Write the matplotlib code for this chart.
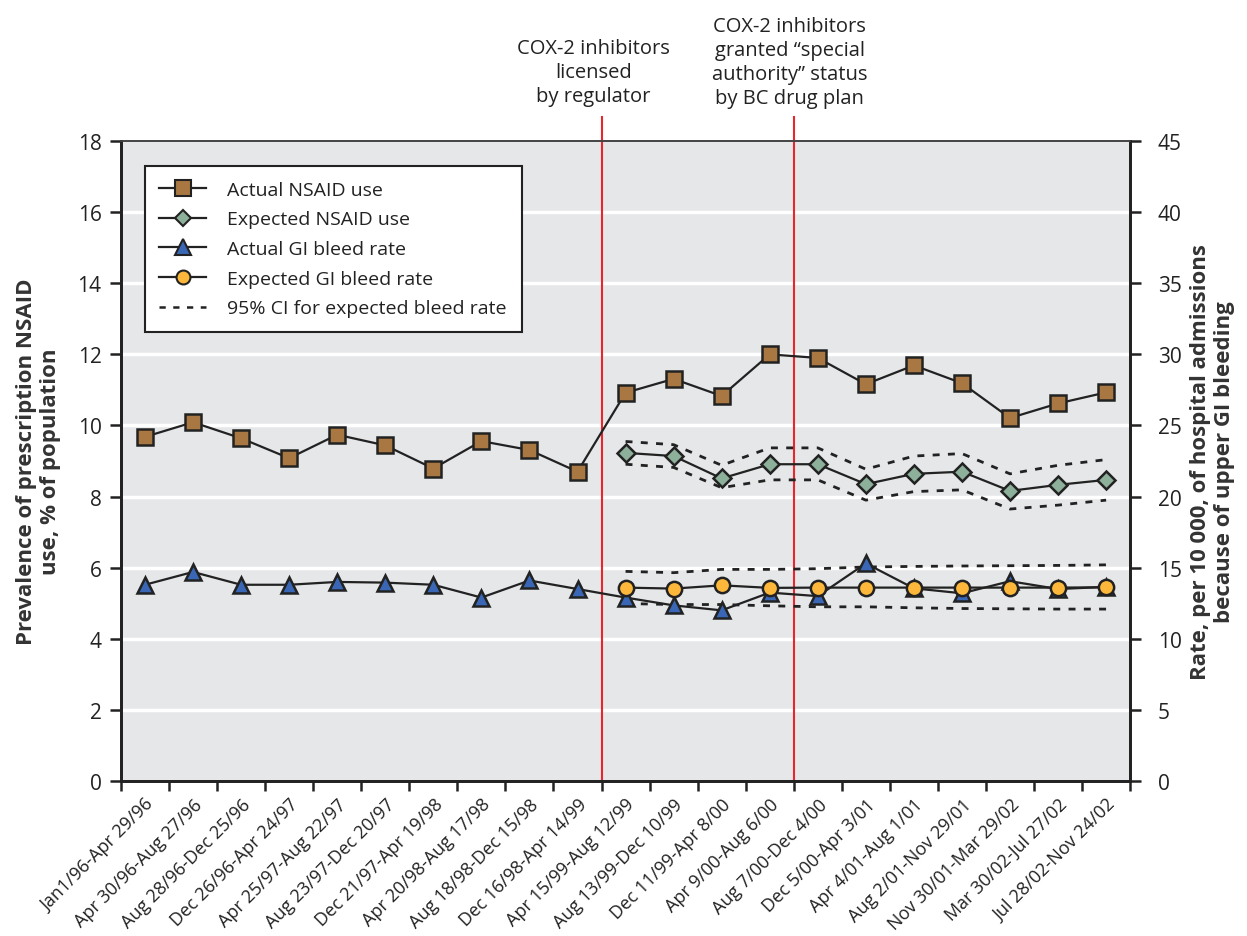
import matplotlib
matplotlib.use("Agg")
import matplotlib.pyplot as plt
import matplotlib.transforms as mtransforms
from matplotlib.lines import Line2D
import numpy as np

plt.rcParams['font.family'] = ['Open Sans', 'DejaVu Sans']

# 4-month periods
periods = ["Jan1/96-Apr 29/96", "Apr 30/96-Aug 27/96", "Aug 28/96-Dec 25/96",
           "Dec 26/96-Apr 24/97", "Apr 25/97-Aug 22/97", "Aug 23/97-Dec 20/97",
           "Dec 21/97-Apr 19/98", "Apr 20/98-Aug 17/98", "Aug 18/98-Dec 15/98",
           "Dec 16/98-Apr 14/99", "Apr 15/99-Aug 12/99", "Aug 13/99-Dec 10/99",
           "Dec 11/99-Apr 8/00", "Apr 9/00-Aug 6/00", "Aug 7/00-Dec 4/00",
           "Dec 5/00-Apr 3/01", "Apr 4/01-Aug 1/01", "Aug 2/01-Nov 29/01",
           "Nov 30/01-Mar 29/02", "Mar 30/02-Jul 27/02", "Jul 28/02-Nov 24/02"]

# NSAID use, % of population (left axis)
actual_nsaid = [9.68, 10.09, 9.64, 9.08, 9.74, 9.44, 8.79, 9.56, 9.31, 8.70,
                10.92, 11.31, 10.83, 12.0, 11.90, 11.16, 11.69, 11.19, 10.21, 10.62, 10.93]
expected_nsaid = [9.23, 9.14, 8.51, 8.91, 8.91, 8.35, 8.64, 8.70, 8.16, 8.33, 8.47]
nsaid_ci_hi = [9.55, 9.46, 8.88, 9.37, 9.37, 8.77, 9.14, 9.21, 8.64, 8.88, 9.04]
nsaid_ci_lo = [8.91, 8.82, 8.25, 8.47, 8.47, 7.90, 8.14, 8.19, 7.65, 7.76, 7.90]

# GI bleed rate per 10 000 (right axis)
actual_gi = [13.8, 14.7, 13.8, 13.8, 14.0, 13.95, 13.8, 12.9, 14.1, 13.5,
             12.9, 12.35, 12.0, 13.25, 13.0, 15.3, 13.55, 13.2, 14.05, 13.5, 13.65]
expected_gi = [13.6, 13.53, 13.76, 13.58, 13.6, 13.6, 13.6, 13.6, 13.6, 13.6, 13.62]
gi_ci_hi = [14.74, 14.65, 14.88, 14.88, 14.93, 15.05, 15.09, 15.12, 15.14, 15.16, 15.2]
gi_ci_lo = [12.48, 12.41, 12.41, 12.32, 12.25, 12.25, 12.18, 12.13, 12.11, 12.09, 12.09]

post_start = 10
events = [9.5, 13.5]
event_text = ["COX-2 inhibitors\nlicensed\nby regulator",
              "COX-2 inhibitors\ngranted \u201cspecial\nauthority\u201d status\nby BC drug plan"]

x_all = np.arange(len(periods))
x_post = np.arange(post_start, len(periods))

fig = plt.figure(figsize=(12.47, 9.37), dpi=100)
ax = fig.add_axes([0.097, 0.1654, 0.8093, 0.683])
ax.set_facecolor('#e6e7e9')
ax2 = ax.twinx()

ax.set_xlim(-0.5, len(periods) - 0.5)
ax.set_ylim(0, 18)
ax2.set_ylim(0, 45)
ax.set_yticks(np.arange(0, 19, 2))
ax2.set_yticks(np.arange(0, 46, 5))

for yv in range(2, 18, 2):
    ax.axhline(yv, color='white', lw=2.5, zorder=0.5)

# x ticks at boundaries, labels at centres
ax.set_xticks(np.arange(-0.5, len(periods), 1))
ax.set_xticklabels([])
ax.set_xticks(x_all, minor=True)
ax.set_xticklabels(periods, minor=True, rotation=45, ha='right',
                   rotation_mode='anchor', fontsize=13, color='#222222')
shift = mtransforms.ScaledTranslation(-0.07, 0, fig.dpi_scale_trans)
for lab in ax.get_xticklabels(minor=True):
    lab.set_transform(lab.get_transform() + shift)
ax.tick_params(axis='x', which='minor', length=0, pad=10)
ax.tick_params(axis='x', which='major', length=7, width=1.8, color='#222222')
ax.tick_params(axis='y', length=8, width=1.8, labelsize=15, color='#222222',
               labelcolor='#222222', pad=6)
ax2.tick_params(axis='y', length=8, width=1.8, labelsize=15, color='#222222',
                labelcolor='#222222', pad=12)

for a in (ax, ax2):
    for s in ['left', 'right', 'bottom']:
        a.spines[s].set_linewidth(2)
        a.spines[s].set_color('#222222')
    a.spines['top'].set_linewidth(1.2)
    a.spines['top'].set_color('#444444')

# red event lines
for ev in events:
    ax.axvline(ev, ymin=0, ymax=1.037, color='#e8262b', lw=1.5, clip_on=False, zorder=1)
ax.text(events[0] - 0.17, 1.108, event_text[0], transform=ax.get_xaxis_transform(),
        ha='center', va='center', fontsize=14.5, color='#222222', linespacing=1.27)
ax.text(events[1] - 0.08, 1.124, event_text[1], transform=ax.get_xaxis_transform(),
        ha='center', va='center', fontsize=14.5, color='#222222', linespacing=1.27)

edge = '#222222'
ax.plot(x_post, nsaid_ci_hi, ls=(0, (2.5, 3)), color='#222222', lw=2, zorder=2)
ax.plot(x_post, nsaid_ci_lo, ls=(0, (2.5, 3)), color='#222222', lw=2, zorder=2)
ax.plot(x_all, actual_nsaid, color='#222222', lw=1.6, marker='s', ms=12,
        mfc='#a97842', mec=edge, mew=1.8, zorder=3)
ax.plot(x_post, expected_nsaid, color='#222222', lw=1.6, marker='D', ms=9,
        mfc='#8db09a', mec=edge, mew=1.8, zorder=3)

ax2.plot(x_post, gi_ci_hi, ls=(0, (2.5, 3)), color='#222222', lw=2, zorder=2)
ax2.plot(x_post, gi_ci_lo, ls=(0, (2.5, 3)), color='#222222', lw=2, zorder=2)
ax2.plot(x_all, actual_gi, color='#222222', lw=1.6, marker='^', ms=12,
         mfc='#3a67b5', mec=edge, mew=1.8, zorder=3)
ax2.plot(x_post, expected_gi, color='#222222', lw=1.6, marker='o', ms=11,
         mfc='#fdb73b', mec=edge, mew=1.8, zorder=4)

ax.set_ylabel("Prevalence of prescription NSAID\nuse, % of population",
              fontsize=16, fontweight='bold', color='#333333', labelpad=12)
ax2.set_ylabel("Rate, per 10 000, of hospital admissions\nbecause of upper GI bleeding",
               fontsize=16, fontweight='bold', color='#333333', labelpad=6)

handles = [
    Line2D([], [], color='#222222', lw=1.6, marker='s', ms=11, mfc='#a97842', mec=edge, mew=1.5),
    Line2D([], [], color='#222222', lw=1.6, marker='D', ms=8, mfc='#8db09a', mec=edge, mew=1.5),
    Line2D([], [], color='#222222', lw=1.6, marker='^', ms=11, mfc='#3a67b5', mec=edge, mew=1.5),
    Line2D([], [], color='#222222', lw=1.6, marker='o', ms=10, mfc='#fdb73b', mec=edge, mew=1.5),
    Line2D([], [], color='#222222', lw=1.8, ls=(0, (2.5, 3))),
]
labels = ["Actual NSAID use", "Expected NSAID use", "Actual GI bleed rate",
          "Expected GI bleed rate", "95% CI for expected bleed rate"]
leg = ax2.legend(handles, labels, loc='upper left', bbox_to_anchor=(0.014, 0.976),
                 fontsize=14, frameon=True, fancybox=False, edgecolor='#222222',
                 framealpha=1, borderpad=0.75, labelspacing=0.6, handlelength=2.4,
                 handletextpad=1.1, labelcolor='#222222')
leg.get_frame().set_linewidth(1.5)
leg.get_frame().set_facecolor('white')
leg.set_zorder(10)

fig.savefig('out.png', dpi=100)
